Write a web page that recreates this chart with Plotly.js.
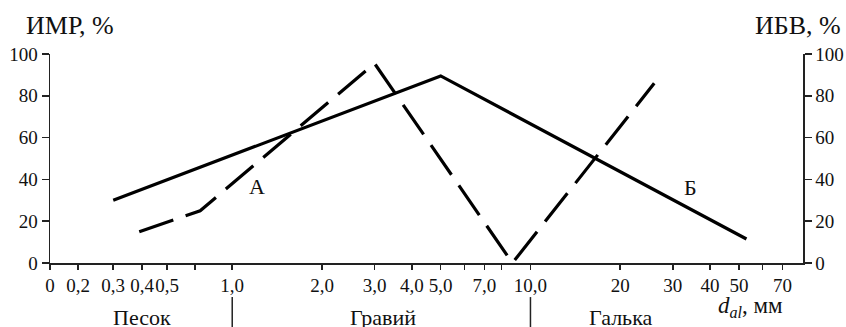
<!DOCTYPE html>
<html>
<head>
<meta charset="utf-8">
<script src="https://cdn.plot.ly/plotly-3.0.1.min.js"></script>
<style>
html,body{margin:0;padding:0;background:#fff;overflow:hidden;}
#chart{width:846px;height:327px;}
#chart svg text{font-family:'Liberation Serif' !important;}
</style>
</head>
<body>
<div id="chart"></div>
<script>
// ---- data ----
const tickMm   = [0, 0.2, 0.3, 0.4, 0.5, 0.7, 1, 2, 3, 4, 5, 6, 7, 8, 10, 20, 30, 40, 50, 60, 70];
const tickText = ['0','0,2','0,3','0,4','0,5','','1,0','2,0','3,0','4,0','5,0','','7,0','','10,0','20','30','40','50','','70'];
const yTicks   = [0, 20, 40, 60, 80, 100];

// ИМР (solid, left axis)
const imrD = [0.3, 5.0, 53];
const imrV = [30, 89.5, 11.5];
// ИБВ (dashed, right axis)
const ibvD = [0.39, 0.74, 3.0, 8.7, 26];
const ibvV = [15, 25, 95.5, 0, 86];

const dividerMm = [1, 10];
const xMaxMm = 82;

// ---- axis scale of the figure: logarithmic from 1 mm up, hand-graduated below 1 mm ----
const fineMm = [0, 0.2, 0.3, 0.4, 0.5, 0.7, 1];
const fineU  = [-0.611, -0.517, -0.399, -0.302, -0.218, -0.124, 0];
function scale(d) {
  if (d >= 1) return Math.log10(d);
  for (let i = 0; i < fineMm.length - 1; i++) {
    if (d <= fineMm[i + 1]) {
      const t = (d - fineMm[i]) / (fineMm[i + 1] - fineMm[i]);
      return fineU[i] + t * (fineU[i + 1] - fineU[i]);
    }
  }
  return 0;
}

const FONT = 'Liberation Serif';
const INK = '#111';

const traces = [
  { x: imrD.map(scale), y: imrV, customdata: imrD, type: 'scatter', mode: 'lines',
    line: { color: '#000', width: 3.2 }, xaxis: 'x', yaxis: 'y', hoverinfo: 'skip' },
  { x: ibvD.map(scale), y: ibvV, customdata: ibvD, type: 'scatter', mode: 'lines',
    line: { color: '#000', width: 3.2, dash: '36px,13px' }, xaxis: 'x', yaxis: 'y2', hoverinfo: 'skip' }
];

const yCommon = {
  range: [0, 100], tickvals: yTicks, ticks: 'outside', ticklen: 7, tickwidth: 1.5,
  tickcolor: '#222', showline: true, linecolor: '#222', linewidth: 1.5,
  showgrid: false, zeroline: false, tickfont: { family: FONT, size: 19, color: INK }
};

function label(text, x, y, size) {
  return { text: text, xref: 'paper', yref: 'paper', x: x, y: y, xanchor: 'center', yanchor: 'middle',
           showarrow: false, font: { size: size, family: FONT, color: INK } };
}

const layout = {
  width: 846, height: 327, autosize: false,
  margin: { l: 50, r: 43, t: 54, b: 64, pad: 0 },
  paper_bgcolor: '#fff', plot_bgcolor: '#fff', showlegend: false,
  font: { family: FONT, color: INK },
  xaxis: {
    range: [scale(0), scale(xMaxMm)], tickvals: tickMm.map(scale), ticktext: tickText,
    tickangle: 0, ticks: 'outside', ticklen: 5, tickwidth: 1.5, tickcolor: '#222',
    showline: true, linecolor: '#222', linewidth: 1.5, showgrid: false, zeroline: false,
    tickfont: { family: FONT, size: 19, color: INK }
  },
  yaxis: Object.assign({}, yCommon),
  yaxis2: Object.assign({}, yCommon, { overlaying: 'y', side: 'right' }),
  shapes: dividerMm.map(d => ({
    type: 'line', xref: 'x', yref: 'paper', x0: scale(d), x1: scale(d),
    y0: -0.163, y1: -0.31, line: { color: '#222', width: 1.5 }
  })),
  annotations: [
    Object.assign(label('ИМР, %', -0.035, 1.134, 26), { xanchor: 'left' }),
    Object.assign(label('ИБВ, %', 0.934, 1.134, 26), { xanchor: 'left' }),
    label('А', 0.275, 0.364, 22),
    label('Б', 0.850, 0.359, 22),
    label('Песок', 0.122, -0.263, 22),
    label('Гравий', 0.442, -0.263, 22),
    label('Галька', 0.757, -0.263, 22),
    label('<i>d</i><sub><i>al</i></sub>, мм', 0.93, -0.21, 23)
  ]
};

Plotly.newPlot('chart', traces, layout, { staticPlot: true, displayModeBar: false });
</script>
</body>
</html>
